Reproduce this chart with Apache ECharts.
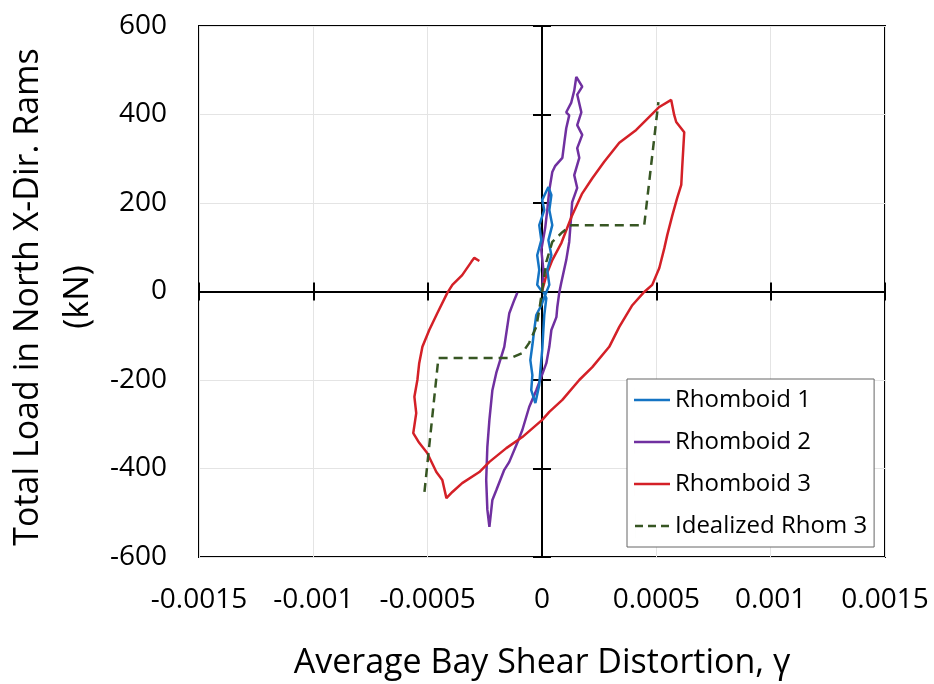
<!DOCTYPE html>
<html><head><meta charset="utf-8">
<script src="https://cdn.jsdelivr.net/npm/echarts@6/dist/echarts.min.js"></script>
<style>html,body{margin:0;padding:0;background:#fff}#c{width:934px;height:684px}</style>
</head><body><div id="c"></div>
<script>
// ---- data (x: average bay shear distortion, y: total load kN) ----
const xTickLabels = ['-0.0015','-0.001','-0.0005','0','0.0005','0.001','0.0015'];
const yTickLabels = ['-600','-400','-200','0','200','400','600'];
const seriesNames = ['Rhomboid 1','Rhomboid 2','Rhomboid 3','Idealized Rhom 3'];

const rhom1X = [0,-0.000021,-0.000012,-0.000021,-0.000003,-0.000012,0.000010,0.000001,0.000028,0.000041,0.000032,0.000045,0.000028,0.000041,0.000023,0.000032,0.000014,-0.000003,-0.000025,-0.000034,-0.000042,-0.000051,-0.000042,-0.000047,-0.000029,-0.000012,-0.000007,0.000001,0.000006,0.000010,0.000019,0.000006];
const rhom1Y = [0,15,49,82,116,150,184,207,236,218,184,150,116,82,49,15,-8,-31,-53,-87,-121,-155,-189,-223,-252,-211,-177,-132,-87,-53,-15,0];

const rhom2X = [0,0.000006,-0.000003,0.000014,0.000023,0.000032,0.000045,0.000058,0.000089,0.000098,0.000106,0.000119,0.000106,0.000128,0.000141,0.000150,0.000176,0.000154,0.000172,0.000154,0.000176,0.000154,0.000163,0.000141,0.000154,0.000132,0.000128,0.000119,0.000106,0.000084,0.000076,0.000067,0.000063,0.000041,0.000032,0.000019,-0.000003,-0.000025,-0.000056,-0.000086,-0.000108,-0.000143,-0.000165,-0.000200,-0.000217,-0.000230,-0.000239,-0.000244,-0.000239,-0.000230,-0.000217,-0.000200,-0.000165,-0.000143,-0.000121,-0.000108];
const rhom2Y = [1,49,94,144,184,229,270,284,302,338,369,398,405,427,454,485,463,445,405,376,354,324,302,263,234,202,173,112,71,19,-1,-35,-58,-87,-125,-162,-193,-223,-261,-313,-342,-385,-403,-449,-471,-532,-493,-426,-351,-290,-223,-184,-125,-49,-19,-3];

const rhom3X = [0,0.000019,0.000045,0.000085,0.000130,0.000174,0.000220,0.000272,0.000338,0.000412,0.000478,0.000513,0.000565,0.000578,0.000587,0.000622,0.000618,0.000613,0.000609,0.000591,0.000570,0.000548,0.000535,0.000513,0.000482,0.000447,0.000395,0.000338,0.000294,0.000220,0.000163,0.000089,0.000032,0.000001,-0.000086,-0.000156,-0.000230,-0.000274,-0.000349,-0.000392,-0.000418,-0.000436,-0.000462,-0.000502,-0.000537,-0.000563,-0.000550,-0.000558,-0.000545,-0.000537,-0.000523,-0.000493,-0.000458,-0.000414,-0.000392,-0.000349,-0.000309,-0.000296,-0.000274];
const rhom3Y = [0,37,71,110,170,220,256,293,336,365,399,417,433,399,383,360,324,279,241,211,172,128,98,53,15,-1,-31,-80,-125,-171,-200,-245,-272,-290,-329,-354,-385,-408,-433,-453,-467,-426,-408,-365,-342,-320,-275,-238,-200,-162,-125,-87,-49,-3,15,37,67,76,69];

const idealX = [-0.000514,-0.000453,-0.000134,-0.000086,-0.000056,-0.000025,-0.000012,0,0.000019,0.000045,0.000089,0.000128,0.000447,0.000509];
const idealY = [-453,-150,-150,-139,-116,-80,-42,0,67,112,134,150,150,428];

const xTitle = 'Average Bay Shear Distortion, γ';
const yTitle1 = 'Total Load in North X-Dir. Rams';
const yTitle2 = '(kN)';

// ---- build ----
const FONT = 'Open Sans';
const pairs = (xs, ys) => xs.map((x, i) => [x, ys[i]]);
const colors = ['#1474C4', '#7030A0', '#D42027', '#375623'];
const solidIcon = 'path://M0,0h0.01v24h-0.01z M0,10.75h36v2.5h-36z';
const dashIcon = 'path://M0,0h0.01v24h-0.01z M0,10.75h8v2.5h-8z M13,10.75h8v2.5h-8z M26,10.75h8v2.5h-8z';

const chart = echarts.init(document.getElementById('c'), null, {renderer: 'canvas'});

const hiddenX = {type:'value', min:-0.0015, max:0.0015, interval:0.0005, position:'bottom'};
const crossXAxis = (inside) => Object.assign({}, hiddenX, {
  axisLine:{show:true, onZero:true, lineStyle:{color:'#000', width:2}},
  axisTick:{show:true, inside:inside, length:9, lineStyle:{color:'#000', width:2}},
  axisLabel:{show:false}, splitLine:{show:false}
});
const hiddenY = {type:'value', min:-600, max:600, interval:200, position:'left'};
const crossYAxis = (inside) => Object.assign({}, hiddenY, {
  axisLine:{show:true, onZero:true, lineStyle:{color:'#000', width:2}},
  axisTick:{show:true, inside:inside, length:9, lineStyle:{color:'#000', width:2}},
  axisLabel:{show:false}, splitLine:{show:false}
});

const option = {
  animation: false,
  backgroundColor: '#fff',
  textStyle: {fontFamily: FONT},
  grid: {left:199, right:49, top:26, bottom:127, show:true, borderColor:'#000', borderWidth:2, backgroundColor:'transparent'},
  xAxis: [
    Object.assign({}, hiddenX, {
      axisLine:{show:false, onZero:false},
      axisTick:{show:false},
      splitLine:{show:true, lineStyle:{color:'#e4e4e4', width:1}},
      axisLabel:{show:true, margin:29, fontSize:28, color:'#000', fontFamily:FONT,
        formatter: v => xTickLabels[Math.round((v + 0.0015) / 0.0005)]}
    }),
    crossXAxis(false),
    crossXAxis(true)
  ],
  yAxis: [
    Object.assign({}, hiddenY, {
      axisLine:{show:false, onZero:false},
      axisTick:{show:false},
      splitLine:{show:true, lineStyle:{color:'#e4e4e4', width:1}},
      axisLabel:{show:true, margin:32, fontSize:28, color:'#000', fontFamily:FONT,
        formatter: v => yTickLabels[Math.round((v + 600) / 200)]}
    }),
    crossYAxis(false),
    crossYAxis(true)
  ],
  legend: {
    orient:'vertical', left:627, top:379,
    padding:[9,7,9,7], itemWidth:36, itemHeight:24, itemGap:18,
    backgroundColor:'#fff', borderColor:'#666', borderWidth:1,
    itemStyle:{borderWidth:0},
    textStyle:{fontSize:24, color:'#000', fontFamily:FONT},
    data: seriesNames.map((n, i) => ({name:n, icon: i === 3 ? dashIcon : solidIcon}))
  },
  graphic: [
    {type:'text', x:542, y:663, z:100,
     style:{text:xTitle, fontSize:34, fontFamily:FONT, fill:'#000', align:'center', verticalAlign:'middle'}},
    {type:'text', x:28, y:297, rotation:Math.PI/2, z:100,
     style:{text:yTitle1, fontSize:34, fontFamily:FONT, fill:'#000', align:'center', verticalAlign:'middle'}},
    {type:'text', x:78, y:297, rotation:Math.PI/2, z:100,
     style:{text:yTitle2, fontSize:34, fontFamily:FONT, fill:'#000', align:'center', verticalAlign:'middle'}}
  ],
  series: [
    {name:seriesNames[0], type:'line', data:pairs(rhom1X, rhom1Y), showSymbol:false, symbol:'none',
     lineStyle:{color:colors[0], width:2.5}, itemStyle:{color:colors[0]}, z:3},
    {name:seriesNames[1], type:'line', data:pairs(rhom2X, rhom2Y), showSymbol:false, symbol:'none',
     lineStyle:{color:colors[1], width:2.5}, itemStyle:{color:colors[1]}, z:2},
    {name:seriesNames[2], type:'line', data:pairs(rhom3X, rhom3Y), showSymbol:false, symbol:'none',
     lineStyle:{color:colors[2], width:2.5}, itemStyle:{color:colors[2]}, z:2},
    {name:seriesNames[3], type:'line', data:pairs(idealX, idealY), showSymbol:false, symbol:'none',
     lineStyle:{color:colors[3], width:2.5, type:[9,6]}, itemStyle:{color:colors[3]}, z:4}
  ]
};
chart.setOption(option);
</script></body></html>
